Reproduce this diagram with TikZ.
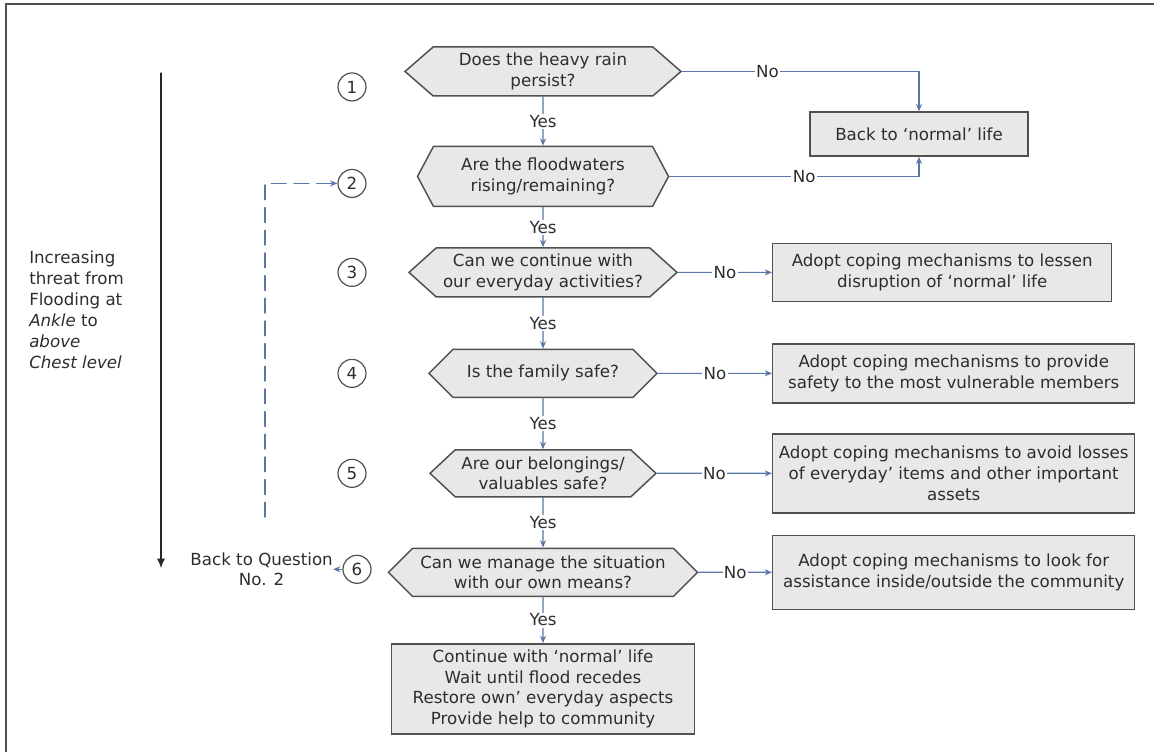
\documentclass[tikz,border=0pt]{standalone}
\usepackage{fontspec}
\setmainfont{DejaVu Sans}
\usepackage{xcolor}
\definecolor{linkblue}{RGB}{88,118,166}
\definecolor{boxgray}{RGB}{232,232,232}
\definecolor{edgegray}{RGB}{80,80,80}
\definecolor{textgray}{RGB}{45,45,45}
\usetikzlibrary{arrows,arrows.meta,positioning,shapes.symbols}

\begin{document}
\begin{tikzpicture}[>={Stealth[length=5.5pt,width=4.5pt]}, line cap=round, node distance=37.5pt, font=\fontsize{12.5}{15.5}\selectfont, text=textgray]
   \tikzstyle{question}=[signal, signal to=west and east, signal pointer angle=88, fill=boxgray, draw=edgegray, line width=1.1pt, align=center, inner sep=2pt]
   \tikzstyle{answer}=[rectangle, fill=boxgray, draw=edgegray, line width=1.1pt, align=center, inner sep=2pt]
   \tikzstyle{num}=[circle, draw=edgegray, line width=0.9pt, minimum size=21pt, inner sep=0pt, fill=white]
   \tikzstyle{lbl}=[fill=white, inner sep=1pt]
   \tikzstyle{link}=[draw=linkblue, line width=0.9pt, ->]

   \useasboundingbox (0,0) rectangle (865.5pt,-564pt);
   \draw[draw=edgegray, line width=1.1pt] (4.5pt,-564pt) |- (865.5pt,-3pt);

   \coordinate (numcol) at (264pt,0);
   \coordinate (boxcol) at (579pt,0);

   % the questions, top to bottom
   \node[question, minimum width=207pt, minimum height=36.75pt, signal pointer angle=82] (q1) at (407.25pt,-53.6pt) {Does the heavy rain\\persist?};
   \node[question, minimum width=188.25pt, minimum height=45pt, signal pointer angle=124] (q2) [below=36.75pt of q1] {Are the floodwaters\\rising/remaining?};
   \node[question, minimum width=201pt, minimum height=36.75pt, signal pointer angle=84] (q3) [below=30pt of q2] {Can we continue with\\our everyday activities?};
   \node[question, minimum width=171pt, minimum height=36pt, signal pointer angle=90] (q4) [below=38.25pt of q3] {Is the family safe?};
   \node[question, minimum width=169.5pt, minimum height=35.25pt, signal pointer angle=86] (q5) [below=38.25pt of q4] {Are our belongings/\\valuables safe?};
   \node[question, minimum width=231.75pt, minimum height=36pt, signal pointer angle=90] (q6) [below=37.5pt of q5] {Can we manage the situation\\with our own means?};
   \node[answer, minimum width=227.25pt, minimum height=67.5pt] (carry_on) [below=34.5pt of q6] {Continue with ‘normal’ life\\Wait until flood recedes\\Restore own’ everyday aspects\\Provide help to community};

   % question numbers
   \node[num, yshift=-11.6pt] (n1) at (q1 -| numcol) {1};
   \node[num, yshift=-5.25pt] (n2) at (q2 -| numcol) {2};
   \node[num] (n3) at (q3 -| numcol) {3};
   \node[num] (n4) at (q4 -| numcol) {4};
   \node[num] (n5) at (q5 -| numcol) {5};
   \node[num, xshift=3.75pt, yshift=2.25pt] (n6) at (q6 -| numcol) {6};
   \node[align=center, inner sep=0pt] (back_q) [left=7pt of n6] {Back to Question\\No. 2};

   % outcomes
   \node[answer, minimum width=163.5pt, minimum height=33pt] (back) at (689.25pt,-100.5pt) {Back to ‘normal’ life};
   \node[answer, anchor=west, minimum width=254.25pt, minimum height=43.5pt] (cope3) at (q3 -| boxcol) {Adopt coping mechanisms to lessen\\disruption of ‘normal’ life};
   \node[answer, anchor=west, minimum width=271.5pt, minimum height=44.25pt] (cope4) at (q4 -| boxcol) {Adopt coping mechanisms to provide\\safety to the most vulnerable members};
   \node[answer, anchor=west, minimum width=271.5pt, minimum height=59.25pt] (cope5) at (q5 -| boxcol) {Adopt coping mechanisms to avoid losses\\of everyday’ items and other important\\assets};
   \node[answer, anchor=west, minimum width=271.5pt, minimum height=55.5pt] (cope6) at (q6 -| boxcol) {Adopt coping mechanisms to look for\\assistance inside/outside the community};

   \node[align=left, anchor=north west, inner sep=0pt, font=\fontsize{12.5}{15.75}\selectfont] (threat) at (21.75pt,-188pt) {Increasing\\threat from\\Flooding at\\\textit{Ankle} to\\\textit{above}\\\textit{Chest level}};
   \coordinate (threat_top) at (120.75pt,-54.75pt);
   \coordinate (threat_end) at (120.75pt,-426pt);
   \coordinate (loop) at (198.75pt,-387.75pt);

   \draw[-{Latex[length=7pt,width=6pt]}, line width=0.8pt, black!85] (threat_top) -- (threat_end);
   \draw[link, line width=1.1pt, dash pattern=on 11pt off 6pt] (loop) |- (n2);

   \path[link]
  (q1)
    edge node[lbl] {Yes} (q2)
  (q2)
    edge node[lbl] {Yes} (q3)
  (q3)
    edge node[lbl] {Yes} (q4)
  (q4)
    edge node[lbl] {Yes} (q5)
  (q5)
    edge node[lbl] {Yes} (q6)
  (q6)
    edge node[lbl] {Yes} (carry_on)
  (q3)
    edge node[lbl] {No} (cope3)
  (q4)
    edge node[lbl] {No} (cope4)
  (q5)
    edge node[lbl] {No} (cope5)
  (q6)
    edge node[lbl] {No} (cope6)
  (n6)
    edge (back_q)
   ;
   \draw[link] (q1.east) -| node[lbl, pos=.18] {No} (back.north);
   \draw[link] (q2.east) -| node[lbl, pos=.27] {No} (back.south);
\end{tikzpicture}
\end{document}
